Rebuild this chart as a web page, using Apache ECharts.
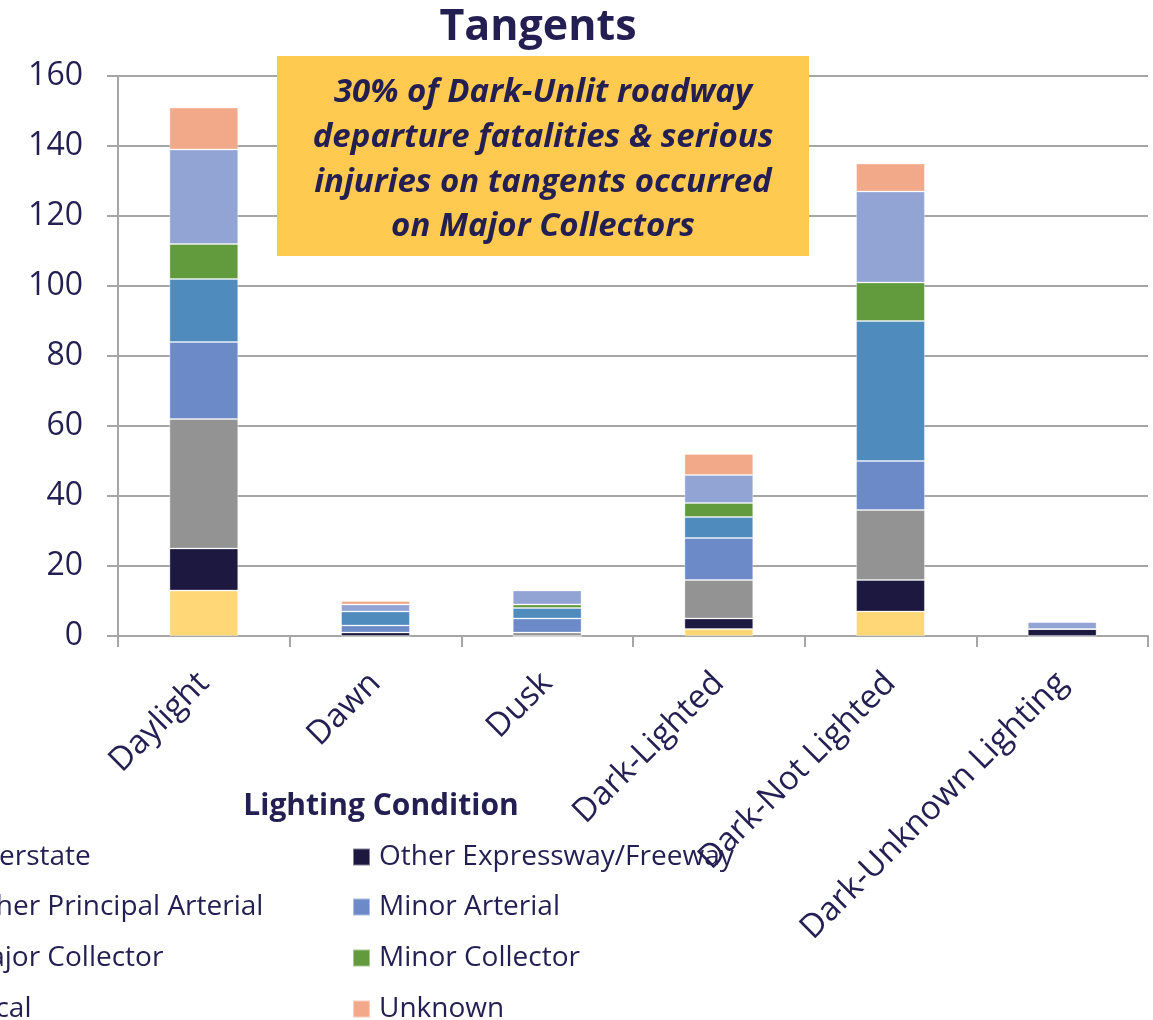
<!DOCTYPE html>
<html>
<head>
<meta charset="utf-8">
<script src="https://cdn.jsdelivr.net/npm/echarts@6/dist/echarts.min.js"></script>
<style>
  html, body { margin: 0; padding: 0; background: #ffffff; }
  #chart { width: 1153px; height: 1020px; }
</style>
</head>
<body>
<div id="chart"></div>
<script>
// Lighting conditions on the category axis
const categories = ['Daylight', 'Dawn', 'Dusk', 'Dark-Lighted', 'Dark-Not Lighted', 'Dark-Unknown Lighting'];

// Fatalities & serious injuries on tangents, by functional class
const interstate       = [13, 0, 0, 2, 7, 0];
const otherExpressway  = [12, 1, 0, 3, 9, 2];
const otherPrincipal   = [37, 0, 1, 11, 20, 0];
const minorArterial    = [22, 2, 4, 12, 14, 0];
const majorCollector   = [18, 4, 3, 6, 40, 0];
const minorCollector   = [10, 0, 1, 4, 11, 0];
const local            = [27, 2, 4, 8, 26, 2];
const unknown          = [12, 1, 0, 6, 8, 0];

const yTicks = { min: 0, max: 160, step: 20 };

const FONT = '"Open Sans", "Noto Sans", sans-serif';
const NAVY = '#231f52';

const seriesDefs = [
  { name: 'Interstate', data: interstate, color: '#ffd777' },
  { name: 'Other Expressway/Freeway', data: otherExpressway, color: '#1c1840' },
  { name: 'Other Principal Arterial', data: otherPrincipal, color: '#939393' },
  { name: 'Minor Arterial', data: minorArterial, color: '#6b8ac7' },
  { name: 'Major Collector', data: majorCollector, color: '#4f8bbc' },
  { name: 'Minor Collector', data: minorCollector, color: '#629a3e' },
  { name: 'Local', data: local, color: '#91a4d4' },
  { name: 'Unknown', data: unknown, color: '#f1a98a' }
];

// Legend laid out as two columns of four rows
const legendCols = [-63, 352];
const legendRows = [857, 907, 958, 1009];
const legends = seriesDefs.map((s, i) => ({
  left: legendCols[i % 2],
  top: legendRows[Math.floor(i / 2)] - 16,
  padding: 0,
  itemWidth: 17, itemHeight: 17, icon: 'rect',
  selectedMode: false,
  textStyle: { fontFamily: FONT, fontSize: 28, color: NAVY, lineHeight: 32, padding: [0, 0, 0, 4] },
  data: [s.name]
}));

const chart = echarts.init(document.getElementById('chart'), null, { renderer: 'canvas' });

const option = {
  animation: false,
  backgroundColor: '#ffffff',
  grid: { left: 118, right: 5, top: 76, bottom: 384, containLabel: false },
  legend: legends,
  xAxis: {
    type: 'category',
    data: categories,
    axisLine: { show: true, lineStyle: { color: '#a6a6a6', width: 2 } },
    axisTick: { show: true, length: 11, lineStyle: { color: '#a6a6a6', width: 2 } },
    axisLabel: {
      interval: 0, rotate: 45, margin: 42,
      fontFamily: FONT, fontSize: 33, color: NAVY
    }
  },
  yAxis: {
    type: 'value',
    min: yTicks.min, max: yTicks.max, interval: yTicks.step,
    axisLine: { show: true, lineStyle: { color: '#a6a6a6', width: 2 } },
    axisTick: { show: true, length: 11, lineStyle: { color: '#a6a6a6', width: 2 } },
    splitLine: { show: true, lineStyle: { color: '#a6a6a6', width: 2 } },
    axisLabel: { margin: 35, fontFamily: FONT, fontSize: 32, color: NAVY }
  },
  series: seriesDefs.map(s => ({
    name: s.name,
    type: 'bar',
    stack: 'total',
    barWidth: '40%',
    data: s.data,
    itemStyle: { color: s.color, borderColor: 'rgba(255,255,255,0.45)', borderWidth: 0.8 }
  })),
  graphic: [
    {
      type: 'text', z: 20,
      x: 538, y: 28,
      style: {
        text: 'Tangents', fontFamily: FONT, fontSize: 43, fontWeight: 'bold',
        fill: NAVY, align: 'center', verticalAlign: 'middle'
      }
    },
    {
      type: 'rect', z: 20,
      shape: { x: 277, y: 56, width: 532, height: 200 },
      style: { fill: '#ffca4f' }
    },
    {
      type: 'text', z: 21,
      x: 543, y: 160,
      style: {
        text: '30% of Dark-Unlit roadway\ndeparture fatalities & serious\ninjuries on tangents occurred\non Major Collectors',
        fontFamily: FONT, fontSize: 33, fontWeight: 'bold', fontStyle: 'italic',
        lineHeight: 44.7, fill: NAVY, align: 'center', verticalAlign: 'middle'
      }
    },
    {
      type: 'text', z: 20,
      x: 381, y: 806,
      style: {
        text: 'Lighting Condition', fontFamily: FONT, fontSize: 30, fontWeight: 'bold',
        fill: NAVY, align: 'center', verticalAlign: 'middle'
      }
    }
  ]
};

chart.setOption(option);
</script>
</body>
</html>
